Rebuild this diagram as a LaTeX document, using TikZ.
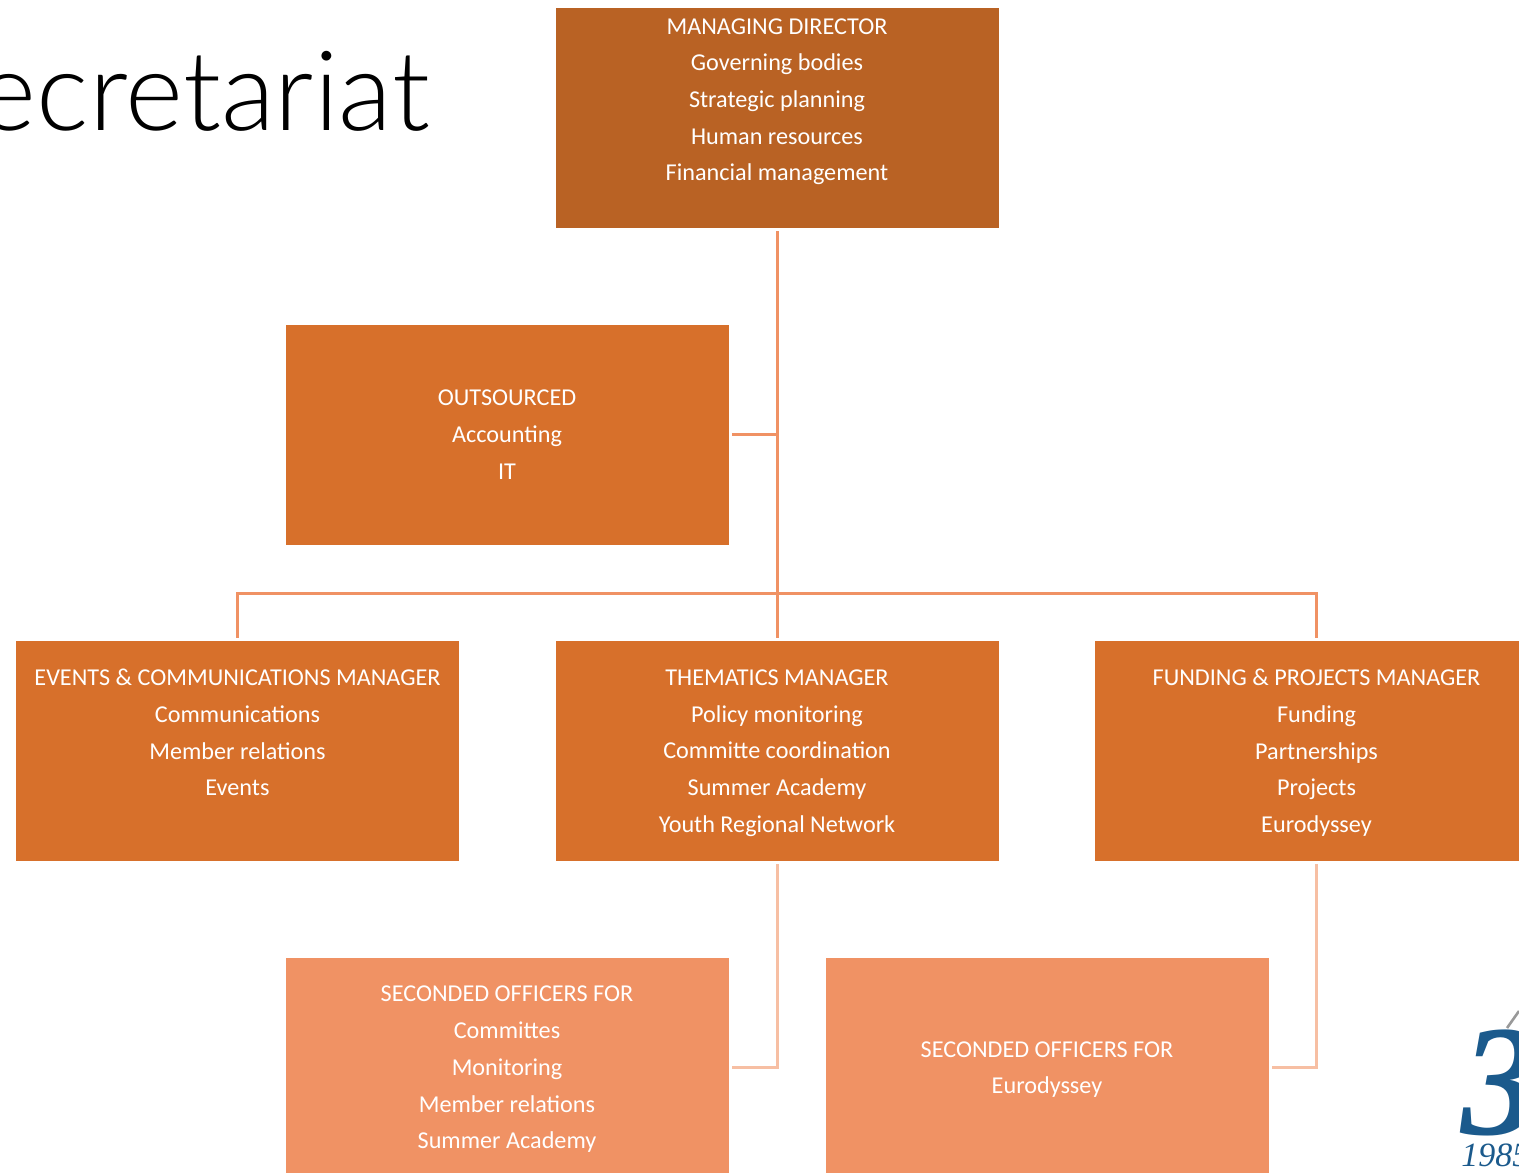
\documentclass[tikz,border=0pt]{standalone}
\usepackage{fontspec}
\setmainfont{Carlito}
\newfontfamily\titlefont{Lato}[UprightFont=* Light]
\newfontfamily\logofont{Liberation Serif}
\usetikzlibrary{positioning}
\definecolor{darkbox}{HTML}{B96224}
\definecolor{midbox}{HTML}{D7702B}
\definecolor{lightbox}{HTML}{F09264}
\definecolor{paleline}{HTML}{F7BFA3}
\definecolor{logoblue}{HTML}{1B5A8C}
\tikzset{
  staffbox/.style={rectangle, text=white, align=center, minimum width=221.5pt, minimum height=110pt,
    inner sep=0pt, text depth=0pt, font=\fontsize{12.1}{18.35}\selectfont},
  topline/.style={draw=lightbox, line width=1.5pt, shorten <=1.5pt, shorten >=1.5pt},
  lowline/.style={draw=paleline, line width=1.5pt, shorten <=1.5pt, shorten >=1.5pt}
}
\begin{document}
\begin{tikzpicture}[x=0.5pt,y=-0.5pt,node distance=158.25pt]
    \useasboundingbox (0,0) rectangle (1519,1172);

    \node[anchor=base east, inner sep=0pt, font=\titlefont\fontsize{55.5}{55.5}\selectfont] (title) at (430,131) {Secretariat};

    \node[staffbox, fill=darkbox] (MD) at (777,118) {MANAGING DIRECTOR\\Governing bodies\\Strategic planning\\Human resources\\Financial management\\\mbox{}};
    \node[staffbox, fill=midbox, below of=MD, xshift=-135pt] (OUT) {OUTSOURCED\\Accounting\\IT};

    \node[staffbox, fill=midbox, below of=MD, node distance=316.5pt] (THM) {THEMATICS MANAGER\\Policy monitoring\\Committe coordination\\Summer Academy\\Youth Regional Network};
    \node[staffbox, fill=midbox, left of=THM, node distance=269.75pt] (EVT) {EVENTS \& COMMUNICATIONS MANAGER\\Communications\\Member relations\\Events\\\mbox{}};
    \node[staffbox, fill=midbox, right of=THM, node distance=269.75pt] (FND) {FUNDING \& PROJECTS MANAGER\\Funding\\Partnerships\\Projects\\Eurodyssey};

    \node[staffbox, fill=lightbox, below of=THM, xshift=-135pt] (SECA) {SECONDED OFFICERS FOR\\Committes\\Monitoring\\Member relations\\Summer Academy};
    \node[staffbox, fill=lightbox, below of=THM, xshift=135pt] (SECB) {SECONDED OFFICERS FOR\\Eurodyssey};

    \coordinate (bus) at (777,593);

    \path[topline] (MD) -- (THM);
    \path[topline, shorten >=0pt] (OUT.east) -- (OUT.east -| MD.south);
    \path[topline] (EVT.north) |- (bus) -| (FND.north);
    \path[lowline] (THM.south) |- (SECA.east);
    \path[lowline] (FND.south) |- (SECB.east);

    % logo in the corner
    \node[anchor=base west, inner sep=0pt, text=logoblue, font=\logofont\bfseries\itshape\fontsize{79}{79}\selectfont] (three) at (1461,1134) {3};
    \node[anchor=base west, inner sep=0pt, text=logoblue, font=\logofont\itshape\fontsize{17}{17}\selectfont] (year) at (1461,1166) {1985};
    \coordinate (stemA) at (1507,1028);
    \coordinate (stemB) at (1519,1011);
    \draw[gray!80, line width=1.3pt] (stemA) -- (stemB);
\end{tikzpicture}
\end{document}
